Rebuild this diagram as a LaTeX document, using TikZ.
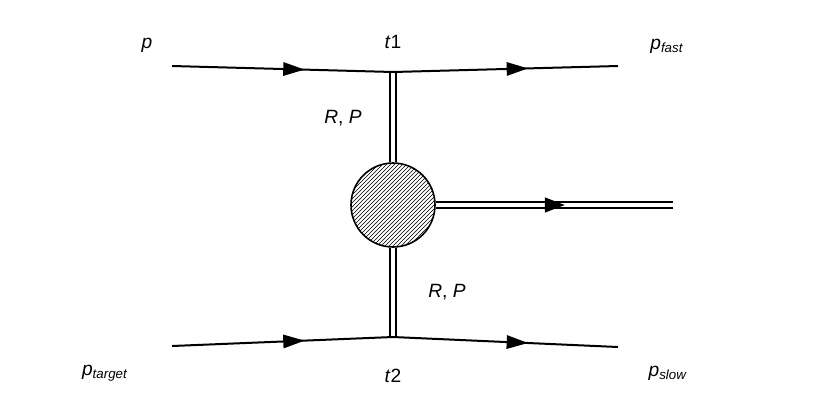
\documentclass[tikz,border=0pt]{standalone}
\usepackage{fontspec}
\setmainfont{Liberation Sans}
\usetikzlibrary{decorations.markings,patterns,arrows.meta}
\tikzset{every picture/.style={line width=1.5pt}}
\tikzset{midarrow/.style={postaction={decorate},decoration={markings,mark=at position #1 with {\arrow{Triangle[length=16pt,width=10pt]}}}}}
\tikzset{dbl/.style={double=white,double distance=3pt,line width=1.2pt}}
\tikzset{lbl/.style={font=\Large}}

\begin{document}
\begin{tikzpicture}[x=0.75pt,y=0.75pt,yscale=-1,xscale=1]
\useasboundingbox (0,0) rectangle (830,419);

%Coordinates
\coordinate (pin) at (172,66);
\coordinate (v1) at (393,72);
\coordinate (pout) at (618,66);
\coordinate (tin) at (172,346);
\coordinate (v2) at (393,337);
\coordinate (tout) at (618,347);
\coordinate (xend) at (673,205);
%Shape: Circle
\node [circle,draw,minimum size=84pt*0.75,inner sep=0pt,line width=1.2pt,pattern=north east lines] (blob) at (393,205) {};

%Straight Lines
\draw [dbl] (v1) -- (blob.north) ;
\draw [dbl] (blob.south) -- (v2) ;
\draw [dbl,midarrow=0.55] (blob.east) -- (xend) ;
\draw [midarrow=0.6] (pin) -- (v1) ;
\draw [midarrow=0.6] (v1) -- (pout) ;
\draw [midarrow=0.6] (tin) -- (v2) ;
\draw [midarrow=0.6] (v2) -- (tout) ;

% Text Node
\node [lbl] (lp) at (147,45) {\textit{p}};
\node [lbl] (lt1) at (393,42) {\textit{t}1};
\node [lbl] (lpf) at (667,46) {\textit{p}\textsubscript{\textit{fast}}};
\node [lbl] (lrp1) at (343,118) {\textit{R}, \textit{P}};
\node [lbl] (lrp2) at (447,292) {\textit{R}, \textit{P}};
\node [lbl] (lpt) at (105,373) {\textit{p}\textsubscript{\textit{target}}};
\node [lbl] (lt2) at (393,376) {\textit{t}2};
\node [lbl] (lps) at (668,373) {\textit{p}\textsubscript{\textit{slow}}};

\end{tikzpicture}
\end{document}
